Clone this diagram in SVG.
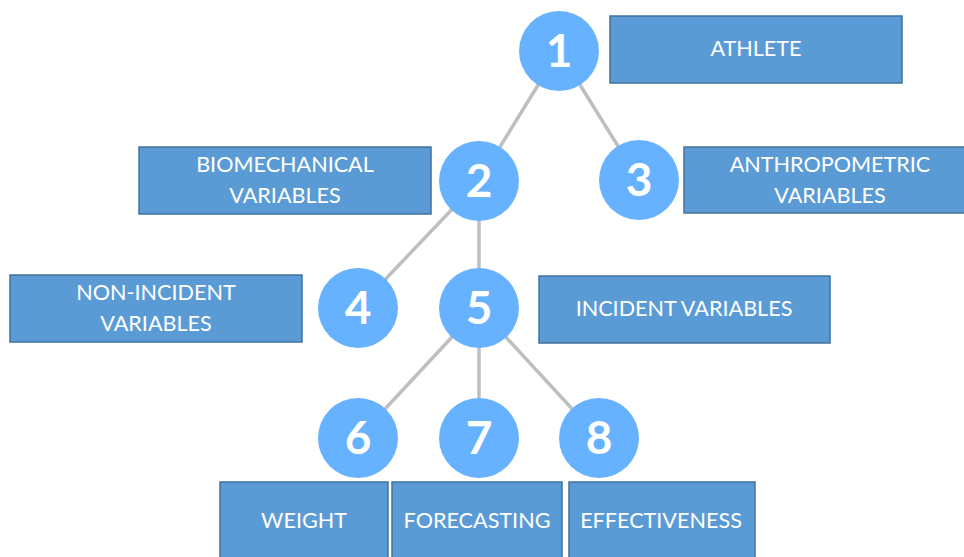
<svg xmlns="http://www.w3.org/2000/svg" width="964" height="557" viewBox="0 0 964 557">
<style>
.box{fill:#5b9bd5;stroke:#41719c;stroke-width:1.5}
.lbl{font-family:Lato,"Open Sans","Liberation Sans",sans-serif;font-size:21.6px;fill:#ffffff;text-anchor:middle}
.c{fill:#66b2ff}
.num{font-family:Lato,"Open Sans","Liberation Sans",sans-serif;font-size:46px;font-weight:bold;fill:#ffffff;text-anchor:middle}
.edge{stroke:#bfbfbf;stroke-width:3.5;fill:none}
</style>
<rect width="964" height="557" fill="#ffffff"/>
<g id="connectors">
<line class="edge" x1="559" y1="51" x2="479" y2="181"/>
<line class="edge" x1="559" y1="51" x2="639" y2="180"/>
<line class="edge" x1="479" y1="181" x2="358" y2="308"/>
<line class="edge" x1="479" y1="181" x2="479" y2="308"/>
<line class="edge" x1="479" y1="308" x2="358" y2="438"/>
<line class="edge" x1="479" y1="308" x2="479" y2="438"/>
<line class="edge" x1="479" y1="308" x2="599" y2="438"/>
</g>
<g id="n1"><circle class="c" cx="559" cy="51" r="40"/><text class="num" x="559" y="67">1</text></g>
<g id="n2"><circle class="c" cx="479" cy="181" r="40"/><text class="num" x="479" y="197">2</text></g>
<g id="n3"><circle class="c" cx="639" cy="180" r="40"/><text class="num" x="639" y="196">3</text></g>
<g id="n4"><circle class="c" cx="358" cy="308" r="40"/><text class="num" x="358" y="324">4</text></g>
<g id="n5"><circle class="c" cx="479" cy="308" r="40"/><text class="num" x="479" y="324">5</text></g>
<g id="n6"><circle class="c" cx="358" cy="438" r="40"/><text class="num" x="358" y="454">6</text></g>
<g id="n7"><circle class="c" cx="479" cy="438" r="40"/><text class="num" x="479" y="454">7</text></g>
<g id="n8"><circle class="c" cx="599" cy="438" r="40"/><text class="num" x="599" y="454">8</text></g>
<g id="athlete"><rect class="box" x="610" y="16" width="292" height="67"/><text class="lbl" x="756" y="56">ATHLETE</text></g>
<g id="anthropometric"><rect class="box" x="684" y="147" width="290" height="66"/><text class="lbl" x="830" y="172">ANTHROPOMETRIC</text><text class="lbl" x="830" y="203">VARIABLES</text></g>
<g id="biomechanical"><rect class="box" x="139" y="147" width="292" height="67"/><text class="lbl" x="285" y="172">BIOMECHANICAL</text><text class="lbl" x="285" y="203">VARIABLES</text></g>
<g id="nonincident"><rect class="box" x="10" y="275" width="292" height="67"/><text class="lbl" x="156" y="300">NON-INCIDENT</text><text class="lbl" x="156" y="331">VARIABLES</text></g>
<g id="incident"><rect class="box" x="539" y="276" width="291" height="67"/><text class="lbl" x="684" y="316">INCIDENT VARIABLES</text></g>
<g id="weight"><rect class="box" x="220" y="482" width="168" height="80"/><text class="lbl" x="304" y="528">WEIGHT</text></g>
<g id="forecasting"><rect class="box" x="392" y="482" width="170" height="80"/><text class="lbl" x="477" y="528">FORECASTING</text></g>
<g id="effectiveness"><rect class="box" x="569" y="482" width="186" height="80"/><text class="lbl" x="661" y="528">EFFECTIVENESS</text></g>
</svg>
